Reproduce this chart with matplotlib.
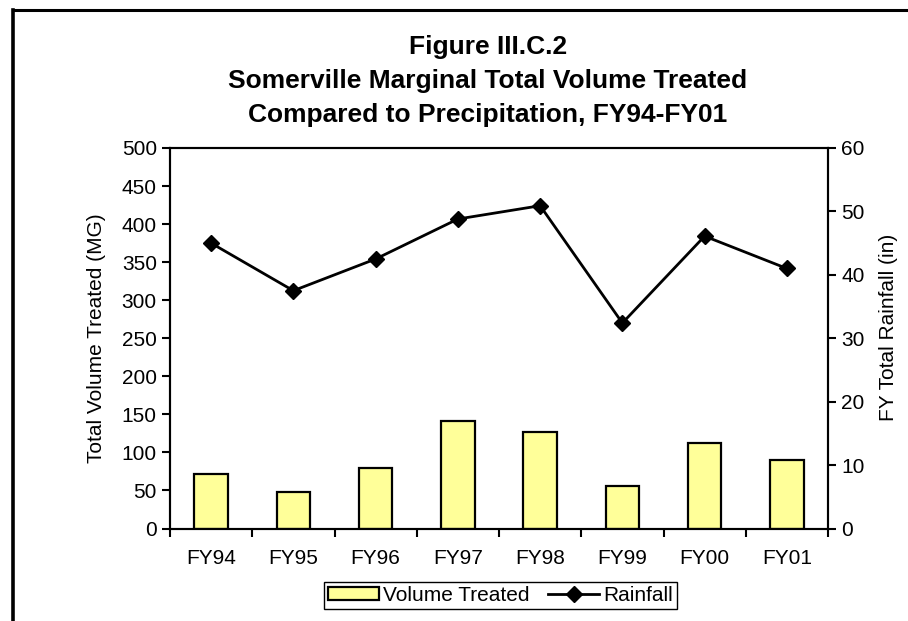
import matplotlib
matplotlib.use("Agg")
import matplotlib.pyplot as plt
from matplotlib.lines import Line2D
import numpy as np

plt.rcParams["font.family"] = ["Liberation Sans", "DejaVu Sans"]

# data
years = ["FY94", "FY95", "FY96", "FY97", "FY98", "FY99", "FY00", "FY01"]
volume_mg = [72, 48, 80, 141, 127, 56, 113, 90]
rainfall_in = [45.0, 37.5, 42.5, 48.8, 50.9, 32.4, 46.1, 41.0]

title_lines = [
    "Figure III.C.2",
    "Somerville Marginal Total Volume Treated",
    "Compared to Precipitation, FY94-FY01",
]

W, H = 908, 621
fig = plt.figure(figsize=(W / 100, H / 100), dpi=100)


def fx(px):
    return px / W


def fy(py):
    # pixel rows counted from the top
    return 1 - py / H


# outer frame: only its left and top edges fall inside the picture
fig.add_artist(Line2D([fx(13), fx(13)], [0, fy(9.5)], color="black", lw=2.6,
                      transform=fig.transFigure))
fig.add_artist(Line2D([fx(13), 1], [fy(9.5), fy(9.5)], color="black", lw=2.2,
                      transform=fig.transFigure))

ax = fig.add_axes([fx(170), fy(528.5), fx(828) - fx(170), fy(148) - fy(528.5)])
x = np.arange(len(years))
ax.bar(x, volume_mg, width=0.41, color="#FFFF99", edgecolor="black", linewidth=1.6,
       label="Volume Treated", zorder=2)
ax.set_xlim(-0.5, len(years) - 0.5)
ax.set_ylim(0, 500)
ax.set_yticks(range(0, 501, 50))
# ticks between categories, labels (and small inner ticks) at the centres
ax.set_xticks(np.arange(-0.5, len(years), 1.0))
ax.set_xticklabels([])
ax.set_xticks(x, minor=True)
ax.set_xticklabels(years, minor=True)
ax.tick_params(axis="x", which="major", direction="out", length=5.5, width=1.5)
ax.tick_params(axis="x", which="minor", direction="in", length=3.5, width=1.5, pad=15,
               labelsize=15)
ax.tick_params(axis="y", direction="out", length=5.5, width=1.5, pad=4, labelsize=15)
ax.set_ylabel("Total Volume Treated (MG)", fontsize=15)
for s in ax.spines.values():
    s.set_linewidth(1.5)

ax2 = ax.twinx()
ax2.plot(x, rainfall_in, color="black", lw=2, marker="D", markersize=8,
         label="Rainfall", zorder=3)
ax2.set_ylim(0, 60)
ax2.set_yticks(range(0, 61, 10))
ax2.tick_params(axis="y", direction="out", length=5.5, width=1.5, pad=4, labelsize=15)
ax2.set_ylabel("FY Total Rainfall (in)", fontsize=15)
for s in ax2.spines.values():
    s.set_linewidth(1.5)

# axis titles placed where the reference has them
ax.yaxis.set_label_coords(fx(96), fy(338), transform=fig.transFigure)
ax2.yaxis.set_label_coords(fx(889), fy(327), transform=fig.transFigure)
ax.yaxis.label.set_verticalalignment("center")
ax2.yaxis.label.set_verticalalignment("center")

for line, base in zip(title_lines, [54, 88, 122]):
    fig.text(fx(488), fy(base), line, ha="center", va="baseline", fontsize=19,
             fontweight="bold")

h1, l1 = ax.get_legend_handles_labels()
h2, l2 = ax2.get_legend_handles_labels()
fig.legend(h1 + h2, l1 + l2, loc="center", bbox_to_anchor=(fx(500.5), fy(595.5)),
           ncol=2, fontsize=15, frameon=True, fancybox=False, edgecolor="black",
           framealpha=1, handlelength=2.45, handleheight=0.55, columnspacing=0.9,
           handletextpad=0.2, borderpad=0.2, borderaxespad=0)

fig.savefig("out.png", dpi=100)
